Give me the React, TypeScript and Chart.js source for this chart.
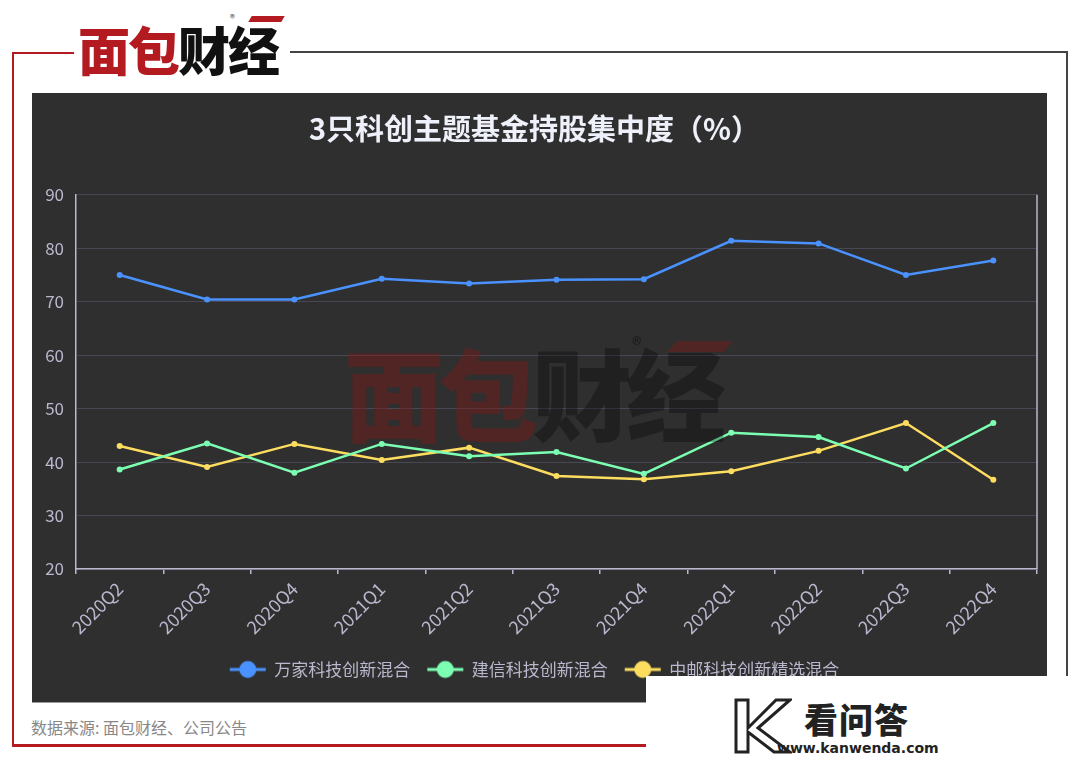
import React, { useEffect, useRef } from "react";
import { Chart, registerables } from "chart.js";

Chart.register(...registerables);

const categories = ["2020Q2", "2020Q3", "2020Q4", "2021Q1", "2021Q2", "2021Q3", "2021Q4", "2022Q1", "2022Q2", "2022Q3", "2022Q4"];
const seriesNames = ["万家科技创新混合", "建信科技创新混合", "中邮科技创新精选混合"];
const wanjia = [75.0, 70.4, 70.4, 74.3, 73.4, 74.1, 74.2, 81.4, 80.9, 75.0, 77.7];
const jianxin = [38.6, 43.5, 38.0, 43.4, 41.1, 41.9, 37.8, 45.5, 44.7, 38.8, 47.3];
const zhongyou = [43.0, 39.1, 43.4, 40.4, 42.7, 37.4, 36.8, 38.3, 42.1, 47.3, 36.7];
const seriesColors = ["#4992ff", "#7cffb2", "#fddd60"];
const yTicks = { min: 20, max: 90, step: 10 };
const title = "3只科创主题基金持股集中度（%）";
const sourceText = "数据来源: 面包财经、公司公告";

const FONT = "'Noto Sans CJK SC', 'Noto Sans', sans-serif";
const AXIS = "#B9B8CE";

function makeMarker(color: string): HTMLCanvasElement {
  const c = document.createElement("canvas");
  c.width = 38;
  c.height = 20;
  const ctx = c.getContext("2d")!;
  ctx.strokeStyle = color;
  ctx.lineWidth = 3;
  ctx.beginPath();
  ctx.moveTo(1, 10);
  ctx.lineTo(37, 10);
  ctx.stroke();
  ctx.fillStyle = color;
  ctx.beginPath();
  ctx.arc(19, 10, 8.5, 0, Math.PI * 2);
  ctx.fill();
  return c;
}

const rightBorder = {
  id: "rightBorder",
  afterDraw(chart: any) {
    const { ctx, chartArea } = chart;
    ctx.save();
    ctx.strokeStyle = AXIS;
    ctx.lineWidth = 1.5;
    ctx.beginPath();
    ctx.moveTo(chartArea.right, chartArea.top);
    ctx.lineTo(chartArea.right, chartArea.bottom);
    ctx.stroke();
    ctx.restore();
  },
};

function ChartPanel() {
  const ref = useRef<HTMLCanvasElement>(null);
  useEffect(() => {
    const markers = seriesColors.map(makeMarker);
    const values = [wanjia, jianxin, zhongyou];
    const chart = new Chart(ref.current!, {
      type: "line",
      data: {
        labels: categories,
        datasets: seriesNames.map((name, i) => ({
          label: name,
          data: values[i],
          borderColor: seriesColors[i],
          backgroundColor: seriesColors[i],
          borderWidth: 2.5,
          pointRadius: 3,
          pointBackgroundColor: seriesColors[i],
          pointBorderWidth: 0,
          tension: 0,
        })),
      },
      options: {
        animation: false,
        responsive: false,
        layout: { padding: { left: 0, right: 10, top: 0, bottom: 14 } },
        plugins: {
          title: {
            display: true,
            text: title,
            color: "#EEF1FA",
            font: { family: FONT, size: 29, weight: "bold", lineHeight: 1.2 },
            padding: { top: 19, bottom: 48 },
          },
          legend: {
            position: "bottom",
            labels: {
              color: AXIS,
              font: { family: FONT, size: 17 },
              usePointStyle: true,
              pointStyleWidth: 36,
              boxHeight: 17,
              padding: 17,
              generateLabels: (c: any) => {
                const items = (Chart.defaults.plugins.legend.labels as any).generateLabels(c);
                return items.map((it: any, i: number) => ({ ...it, pointStyle: markers[i], fontColor: AXIS }));
              },
            },
          },
          tooltip: { enabled: false },
        },
        scales: {
          x: {
            offset: true,
            afterFit: (s: any) => {
              s.height = 75;
            },
            grid: {
              display: true,
              drawOnChartArea: false,
              drawTicks: true,
              tickLength: 5,
              offset: true,
              color: AXIS,
              lineWidth: 1.5,
            },
            border: { display: true, color: AXIS, width: 1.5 },
            ticks: {
              color: AXIS,
              font: { family: FONT, size: 18 },
              maxRotation: 45,
              minRotation: 45,
              autoSkip: false,
              padding: 4,
            },
          },
          y: {
            min: yTicks.min,
            max: yTicks.max,
            afterFit: (s: any) => {
              s.width = 44;
            },
            grid: { color: "#484753", lineWidth: 1, drawTicks: false },
            border: { display: true, color: AXIS, width: 1.5 },
            ticks: {
              stepSize: yTicks.step,
              color: AXIS,
              font: { family: FONT, size: 17 },
              padding: 12,
            },
          },
        },
      },
      plugins: [rightBorder],
    });
    return () => chart.destroy();
  }, []);
  return <canvas ref={ref} width={1015} height={609} style={{ display: "block", width: 1015, height: 609 }} />;
}

function KLogo() {
  return (
    <svg width="60" height="56" viewBox="0 0 60 56" style={{ position: "absolute", left: 732, top: 698 }}>
      <path d="M4 2 L16 2 L16 30 L44 2 L58 2 L26 30 L58 54 L42 54 L16 34 L16 54 L4 54 Z" fill="none" stroke="#222" strokeWidth="3" />
    </svg>
  );
}

export default function App() {
  return (
    <div style={{ position: "fixed", left: 0, top: 0, width: 1080, height: 760, background: "#fff", overflow: "hidden", fontFamily: FONT }}>
      {/* frame lines */}
      <div style={{ position: "absolute", left: 12, top: 52, width: 2, height: 694, background: "#b31b20" }} />
      <div style={{ position: "absolute", left: 12, top: 52, width: 62, height: 2, background: "#b31b20" }} />
      <div style={{ position: "absolute", left: 12, top: 744, width: 900, height: 3, background: "#b31b20" }} />
      <div style={{ position: "absolute", left: 290, top: 51, width: 778, height: 2, background: "#444" }} />
      <div style={{ position: "absolute", left: 1066, top: 51, width: 2, height: 700, background: "#444" }} />
      {/* top logo */}
      <div style={{ position: "absolute", left: 78, top: 14, fontSize: 52, fontWeight: 900, letterSpacing: -2, lineHeight: "70px", whiteSpace: "nowrap" }}>
        <span style={{ color: "#b31b20" }}>面包</span>
        <span style={{ color: "#111" }}>财经</span>
      </div>
      <div style={{ position: "absolute", left: 250, top: 16, width: 33, height: 6, background: "#b31b20", transform: "skewX(-30deg)" }} />
      <div style={{ position: "absolute", left: 230, top: 10, fontSize: 10, color: "#444" }}>®</div>
      {/* dark panel */}
      <div style={{ position: "absolute", left: 32, top: 93, width: 1015, height: 609, background: "#2f2f2f", borderBottom: "1px solid #999" }}>
        <ChartPanel />
        {/* watermark */}
        <div style={{ position: "absolute", left: 312, top: 228, fontSize: 100, fontWeight: 900, letterSpacing: -6, lineHeight: "140px", whiteSpace: "nowrap", pointerEvents: "none" }}>
          <span style={{ color: "rgba(130,25,25,0.42)" }}>面包</span>
          <span style={{ color: "rgba(0,0,0,0.3)" }}>财经</span>
        </div>
        <div style={{ position: "absolute", left: 640, top: 248, width: 56, height: 11, background: "rgba(130,25,25,0.42)", transform: "skewX(-40deg)", pointerEvents: "none" }} />
        <div style={{ position: "absolute", left: 600, top: 236, fontSize: 20, color: "rgba(0,0,0,0.45)", pointerEvents: "none" }}>®</div>
      </div>
      {/* source */}
      <div style={{ position: "absolute", left: 31, top: 716, fontSize: 16, color: "#888", lineHeight: "22px", whiteSpace: "nowrap" }}>{sourceText}</div>
      {/* bottom-right watermark box */}
      <div style={{ position: "absolute", left: 646, top: 676, width: 434, height: 84, background: "#fff" }} />
      <KLogo />
      <div style={{ position: "absolute", left: 804, top: 697, fontSize: 34, fontWeight: 900, color: "#222", lineHeight: "44px", letterSpacing: 1, whiteSpace: "nowrap" }}>看问答</div>
      <div style={{ position: "absolute", left: 777, top: 739, fontSize: 14, fontWeight: 700, color: "#222", lineHeight: "18px", fontFamily: "'DejaVu Sans', sans-serif", whiteSpace: "nowrap" }}>www.kanwenda.com</div>
    </div>
  );
}
